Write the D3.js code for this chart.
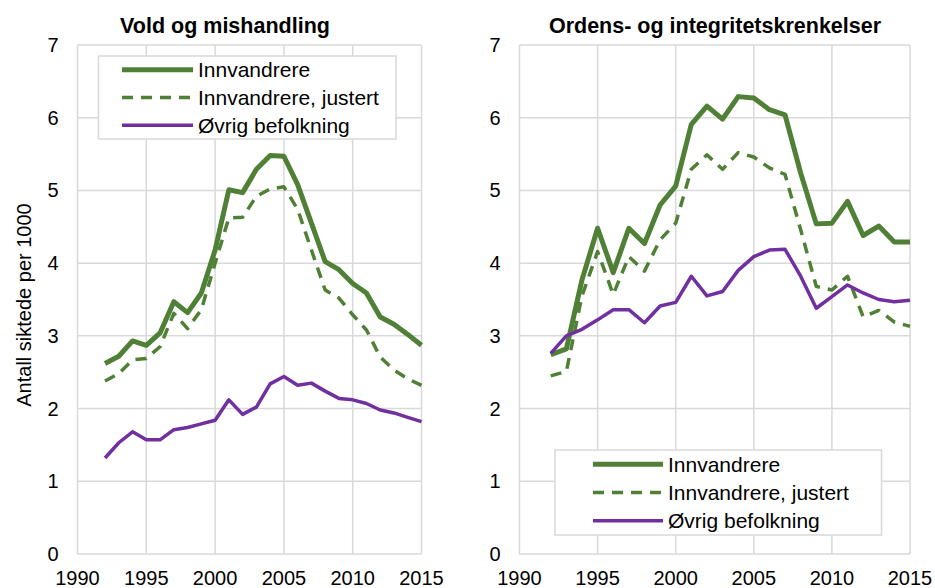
<!DOCTYPE html>
<html>
<head>
<meta charset="utf-8">
<script src="https://cdnjs.cloudflare.com/ajax/libs/d3/7.8.5/d3.min.js"></script>
<style>
  body { margin: 0; background: #fff; }
  svg { display: block; font-family: "Liberation Sans", Arial, sans-serif; }
</style>
</head>
<body>
<div id="chart"></div>
<script>
const years = d3.range(1992, 2016);
const xTicks = [1990, 1995, 2000, 2005, 2010, 2015];
const yTicks = [0, 1, 2, 3, 4, 5, 6, 7];
const seriesNames = ["Innvandrere", "Innvandrere, justert", "Øvrig befolkning"];
const panelTitles = ["Vold og mishandling", "Ordens- og integritetskrenkelser"];
const yLabel = "Antall siktede per 1000";

// Vold og mishandling
const voldInnv = [2.62, 2.72, 2.93, 2.87, 3.04, 3.47, 3.32, 3.59, 4.18, 5.01, 4.97, 5.29,
                  5.48, 5.47, 5.08, 4.55, 4.02, 3.91, 3.72, 3.59, 3.26, 3.16, 3.02, 2.87];
const voldJust = [2.38, 2.48, 2.67, 2.69, 2.85, 3.31, 3.10, 3.36, 4.00, 4.62, 4.63, 4.92,
                  5.02, 5.05, 4.74, 4.18, 3.63, 3.52, 3.29, 3.08, 2.71, 2.53, 2.41, 2.32];
const voldOvrig = [1.32, 1.53, 1.68, 1.57, 1.57, 1.71, 1.74, 1.79, 1.84, 2.12, 1.92, 2.02,
                   2.34, 2.44, 2.32, 2.35, 2.24, 2.14, 2.12, 2.07, 1.98, 1.94, 1.88, 1.82];

// Ordens- og integritetskrenkelser
const ordenInnv = [2.74, 2.82, 3.77, 4.48, 3.87, 4.48, 4.27, 4.80, 5.06, 5.91, 6.16, 5.98,
                   6.29, 6.27, 6.11, 6.04, 5.24, 4.54, 4.55, 4.85, 4.38, 4.51, 4.29, 4.29];
const ordenJust = [2.45, 2.51, 3.55, 4.16, 3.57, 4.09, 3.89, 4.32, 4.55, 5.29, 5.49, 5.29,
                   5.52, 5.46, 5.31, 5.22, 4.46, 3.68, 3.63, 3.82, 3.26, 3.35, 3.19, 3.13];
const ordenOvrig = [2.76, 3.00, 3.09, 3.22, 3.36, 3.36, 3.18, 3.41, 3.46, 3.82, 3.55, 3.61,
                    3.90, 4.09, 4.18, 4.19, 3.82, 3.38, 3.54, 3.70, 3.59, 3.50, 3.47, 3.49];

const W = 935, H = 588;
const green = "#4f8036", purple = "#7030A0", grid = "#d9d9d9";
const styles = [
  { color: green, width: 5, dash: null },
  { color: green, width: 3.5, dash: "11,8" },
  { color: purple, width: 3.5, dash: null }
];

const svg = d3.select("#chart").append("svg")
  .attr("width", W).attr("height", H);

const y = d3.scaleLinear().domain([0, 7]).range([554, 45]);

const panels = [
  { x0: 77.5, x1: 421.5, title: panelTitles[0], titleX: 225,
    data: [voldInnv, voldJust, voldOvrig],
    legend: { x: 98.5, y: 56, w: 297.5, h: 83, lineX: 122, lineW: 71 } },
  { x0: 519.5, x1: 910, title: panelTitles[1], titleX: 715,
    data: [ordenInnv, ordenJust, ordenOvrig],
    legend: { x: 555, y: 450, w: 326.5, h: 85, lineX: 593, lineW: 70 } }
];

panels.forEach(p => {
  const x = d3.scaleLinear().domain([1990, 2015]).range([p.x0, p.x1]);
  const g = svg.append("g");

  // gridlines
  g.selectAll(".hg").data(yTicks).enter().append("line")
    .attr("x1", p.x0).attr("x2", p.x1)
    .attr("y1", d => y(d)).attr("y2", d => y(d))
    .attr("stroke", grid).attr("stroke-width", 1.5);
  g.selectAll(".vg").data(xTicks).enter().append("line")
    .attr("x1", d => x(d)).attr("x2", d => x(d))
    .attr("y1", y(0)).attr("y2", y(7))
    .attr("stroke", grid).attr("stroke-width", 1.5);

  // tick labels
  g.selectAll(".yl").data(yTicks).enter().append("text")
    .attr("x", p.x0 - 19).attr("y", d => y(d))
    .attr("dy", "0.35em").attr("text-anchor", "end")
    .style("font-size", "20px").attr("fill", "#000")
    .text(d => d);
  g.selectAll(".xl").data(xTicks).enter().append("text")
    .attr("x", d => x(d)).attr("y", 585)
    .attr("text-anchor", "middle")
    .style("font-size", "20px").attr("fill", "#000")
    .text(d => d);

  // title
  g.append("text")
    .attr("x", p.titleX).attr("y", 33)
    .attr("text-anchor", "middle")
    .style("font-size", "21.5px").style("font-weight", "bold")
    .text(p.title);

  // legend
  const L = p.legend;
  g.append("rect")
    .attr("x", L.x).attr("y", L.y).attr("width", L.w).attr("height", L.h)
    .attr("fill", "#fff").attr("stroke", grid).attr("stroke-width", 1.5);
  const rowH = L.h / 3;
  seriesNames.forEach((name, i) => {
    const cy = L.y + rowH * (i + 0.5);
    g.append("line")
      .attr("x1", L.lineX).attr("x2", L.lineX + L.lineW)
      .attr("y1", cy).attr("y2", cy)
      .attr("stroke", styles[i].color).attr("stroke-width", styles[i].width)
      .attr("stroke-dasharray", styles[i].dash);
    g.append("text")
      .attr("x", L.lineX + L.lineW + 5).attr("y", cy)
      .attr("dy", "0.35em")
      .style("font-size", "21px")
      .text(name);
  });

  // lines
  const line = d3.line().x((d, i) => x(years[i])).y(d => y(d));
  p.data.forEach((vals, i) => {
    g.append("path")
      .datum(vals)
      .attr("d", line)
      .attr("fill", "none")
      .attr("stroke", styles[i].color)
      .attr("stroke-width", styles[i].width)
      .attr("stroke-dasharray", styles[i].dash)
      .attr("stroke-linejoin", "round");
  });
});

// y axis title
svg.append("text")
  .attr("transform", `translate(31, 305) rotate(-90)`)
  .attr("text-anchor", "middle")
  .style("font-size", "20px")
  .text(yLabel);
</script>
</body>
</html>
